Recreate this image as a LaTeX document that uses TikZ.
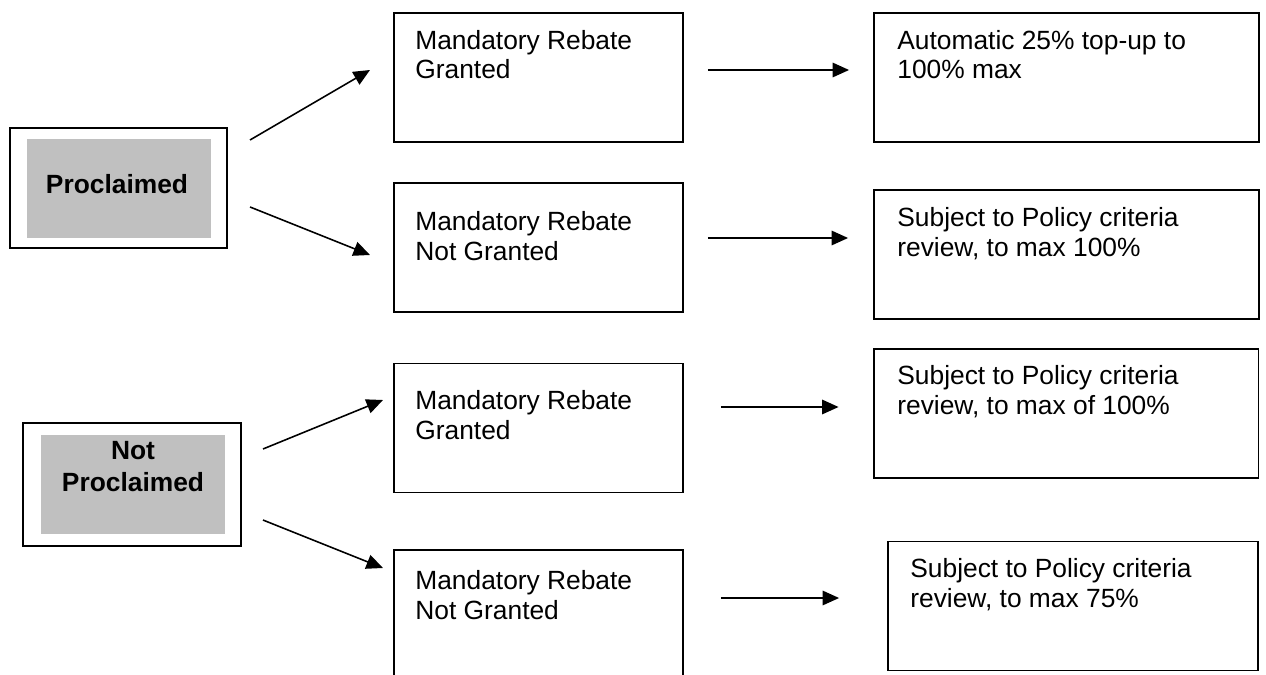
\documentclass[tikz,border=0pt]{standalone}
\usepackage{fontspec}
\setmainfont{Liberation Sans}
\usetikzlibrary{arrows.meta}
\definecolor{boxgray}{RGB}{192,192,192}

\begin{document}
\begin{tikzpicture}[x=0.02cm,y=-0.02cm,
  box/.style={draw, line width=1.1pt, inner sep=0pt, minimum height=2.58cm},
  midbox/.style={box, minimum width=5.78cm},
  outbox/.style={box, minimum width=7.7cm},
  txt/.style={anchor=base west, inner sep=0pt, align=left, font=\fontsize{15}{17}\selectfont},
  bold/.style={inner sep=0pt, align=center, font=\bfseries\fontsize{15}{18.2}\selectfont},
  arr/.style={line width=0.9pt, -{Triangle[length=0.33cm,width=0.29cm]}}]
\useasboundingbox (0,0) rectangle (1266,675);

% left
\node[box, minimum width=4.34cm, minimum height=2.4cm] (p) at (118.5,188) {};
\node[fill=boxgray, inner sep=0pt, minimum width=3.68cm, minimum height=1.98cm] (pg) at (119,188.5) {};
\node[bold, anchor=base] (pt) at (117,194) {Proclaimed};
\node[box, minimum width=4.36cm, minimum height=2.46cm] (np) at (132,484.5) {};
\node[fill=boxgray, inner sep=0pt, minimum width=3.68cm, minimum height=1.98cm] (npg) at (133,484.5) {};
\node[bold, anchor=base] (npt) at (133,491) {Not\\Proclaimed};

% middle
\node[midbox] (m1) at (538.5,77.5) {};
\node[midbox] (m2) at (538.5,247.5) {};
\node[midbox] (m3) at (538.5,428) {};
\node[midbox] (m4) at (538.5,614.5) {};
\node[txt] (tm1) at (415,79) {Mandatory Rebate\\Granted};
\node[txt] (tm2) at (415,260) {Mandatory Rebate\\Not Granted};
\node[txt] (tm3) at (415,439) {Mandatory Rebate\\Granted};
\node[txt] (tm4) at (415,619) {Mandatory Rebate\\Not Granted};

% right
\node[outbox] (r1) at (1066.5,77.5) {};
\node[outbox] (r2) at (1066.5,254.5) {};
\node[outbox] (r3) at (1066,413.5) {};
\node[box, minimum width=7.4cm] (r4) at (1073,606) {};
\node[txt] (tr1) at (897,79) {Automatic 25\% top-up to\\100\% max};
\node[txt] (tr2) at (897,256) {Subject to Policy criteria\\review, to max 100\%};
\node[txt] (tr3) at (897,414) {Subject to Policy criteria\\review, to max of 100\%};
\node[txt] (tr4) at (910,607) {Subject to Policy criteria\\review, to max 75\%};

% arrows
\coordinate (pa) at (250,140);
\coordinate (pb) at (250,207);
\coordinate (npa) at (263,449);
\coordinate (npb) at (263,520);
\coordinate (m1a) at (370,70);
\coordinate (m2a) at (370,255);
\coordinate (m3a) at (383,400);
\coordinate (m4a) at (383,568);
\draw[arr] (pa) -- (m1a);
\draw[arr] (pb) -- (m2a);
\draw[arr] (npa) -- (m3a);
\draw[arr] (npb) -- (m4a);

\draw[arr, shorten <=0.48cm, shorten >=0.48cm] (m1.east |- 0,70) -- (r1.west |- 0,70);
\draw[arr, shorten <=0.48cm, shorten >=0.5cm] (m2.east |- 0,238) -- (r2.west |- 0,238);
\draw[arr, shorten <=0.74cm, shorten >=0.68cm] (m3.east |- 0,407) -- (r3.west |- 0,407);
\draw[arr, shorten <=0.74cm, shorten >=0.96cm] (m4.east |- 0,598) -- (r4.west |- 0,598);
\end{tikzpicture}
\end{document}
